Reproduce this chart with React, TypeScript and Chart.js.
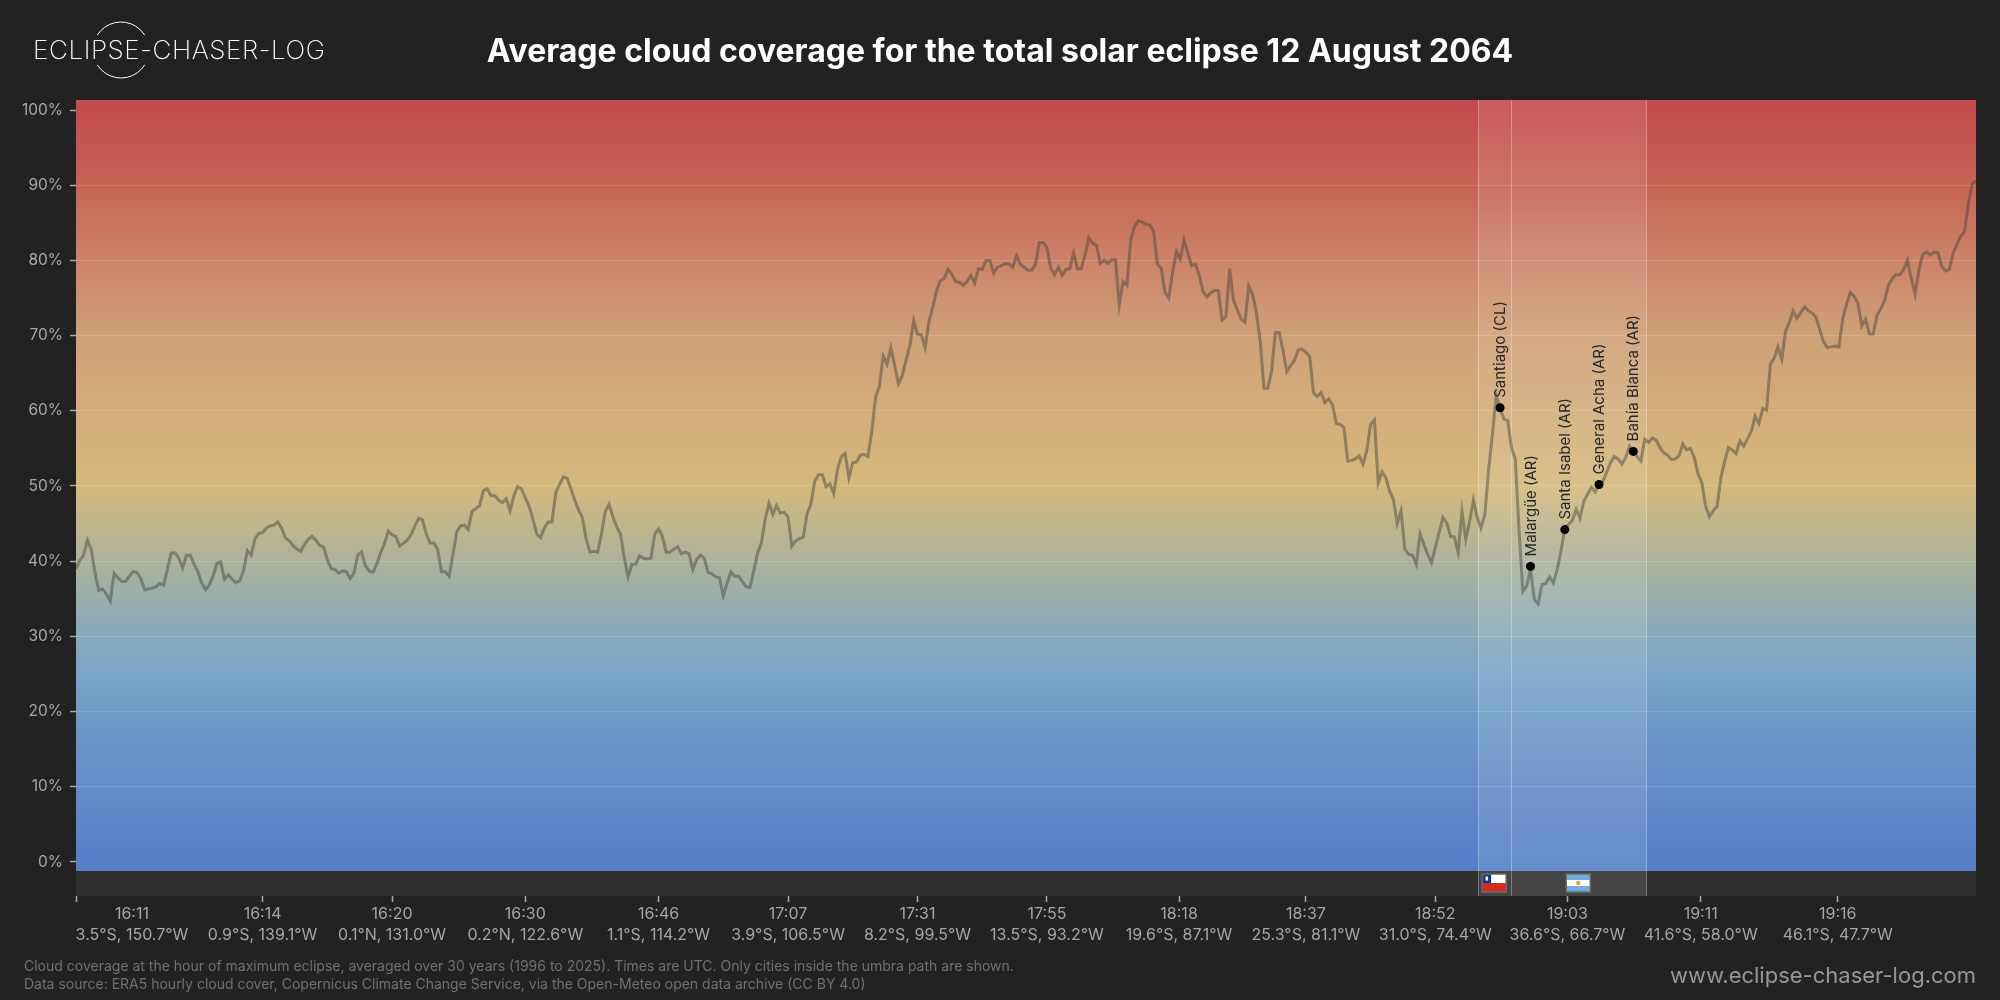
import { useEffect, useRef } from "react";
import { Chart, registerables } from "chart.js";

Chart.register(...registerables);

// cloud cover (%), 500 samples along the eclipse track
const coverA = [
  39.0, 40.1, 40.8, 42.8, 41.6, 38.4, 36.1, 36.3, 35.6, 34.7,
  38.4, 37.8, 37.3, 37.3, 38.0, 38.6, 38.5, 37.7, 36.2, 36.3,
  36.4, 36.6, 37.0, 36.8, 38.9, 41.1, 41.1, 40.4, 39.1, 40.8,
  40.8, 39.6, 38.6, 37.1, 36.2, 36.8, 38.0, 39.7, 39.9, 37.6,
  38.2, 37.6, 37.1, 37.4, 38.7, 41.4, 40.8, 43.0, 43.7, 43.8,
  44.4, 44.7, 44.8, 45.2, 44.4, 43.1, 42.7, 42.1, 41.6, 41.3,
  42.2, 42.9, 43.3, 42.8, 42.1, 41.9, 40.2, 39.0, 38.9, 38.4,
  38.7, 38.6, 37.7, 38.4, 40.8, 41.2, 39.4, 38.7, 38.5, 39.6,
  41.1, 42.3, 44.0, 43.5, 43.3, 42.0, 42.4, 42.8, 43.5, 44.7,
  45.7, 45.5, 43.6, 42.4, 42.4, 41.5, 38.6, 38.6, 38.0, 40.9,
];
const coverB = [
  43.9, 44.7, 44.8, 44.2, 46.6, 47.0, 47.4, 49.4, 49.6, 48.7,
  48.7, 48.1, 47.8, 48.3, 46.7, 48.7, 49.9, 49.6, 48.4, 47.3,
  45.6, 43.6, 43.1, 44.4, 45.2, 45.2, 49.1, 50.2, 51.2, 51.0,
  49.6, 48.1, 46.8, 45.8, 42.9, 41.2, 41.3, 41.2, 43.6, 46.6,
  47.6, 45.9, 44.6, 43.6, 40.4, 37.9, 39.6, 39.6, 40.7, 40.4,
  40.3, 40.4, 43.6, 44.3, 43.3, 41.2, 41.2, 41.6, 41.9, 41.0,
  41.2, 41.0, 38.9, 40.2, 40.8, 40.4, 38.5, 38.3, 37.9, 37.8,
  35.4, 37.1, 38.6, 38.0, 38.0, 37.3, 36.6, 36.5, 38.7, 41.1,
  42.4, 45.6, 47.7, 46.2, 47.4, 46.4, 46.5, 45.9, 42.0, 42.7,
  43.0, 43.2, 46.3, 47.6, 50.6, 51.5, 51.5, 49.9, 50.3, 49.0,
];
const coverC = [
  52.2, 53.9, 54.3, 51.1, 53.1, 53.2, 54.1, 54.2, 53.9, 57.3,
  61.8, 63.3, 67.3, 66.2, 68.4, 66.0, 63.6, 64.7, 66.7, 68.7,
  72.0, 70.2, 70.1, 68.4, 71.8, 73.8, 75.9, 77.3, 77.6, 78.8,
  78.2, 77.2, 77.1, 76.7, 77.2, 78.0, 77.0, 78.9, 78.8, 80.0,
  80.0, 78.3, 79.1, 79.3, 79.6, 79.5, 79.1, 80.6, 79.5, 79.1,
  78.7, 78.7, 79.5, 82.4, 82.4, 81.7, 79.0, 78.1, 79.1, 78.0,
  78.8, 78.9, 81.0, 78.9, 78.9, 80.7, 83.0, 82.3, 82.0, 79.6,
  80.0, 79.6, 80.1, 80.1, 74.1, 77.2, 76.7, 82.7, 84.5, 85.3,
  85.1, 84.8, 84.7, 83.9, 79.5, 79.0, 75.8, 75.0, 78.4, 81.2,
  80.2, 82.7, 81.0, 79.3, 79.5, 78.0, 75.9, 75.1, 75.7, 76.0,
];
const coverD = [
  76.0, 72.1, 72.5, 78.9, 74.7, 73.4, 72.2, 71.8, 76.6, 75.5,
  73.1, 69.3, 63.0, 63.0, 65.3, 70.4, 70.4, 68.0, 65.2, 66.0,
  66.7, 68.1, 68.2, 67.8, 67.2, 62.4, 61.9, 62.4, 61.1, 61.6,
  60.8, 58.3, 58.2, 57.8, 53.3, 53.4, 53.6, 54.0, 52.9, 54.7,
  58.2, 58.8, 50.4, 51.9, 51.1, 49.3, 48.2, 45.0, 46.7, 41.6,
  40.9, 40.8, 39.6, 43.6, 42.2, 40.9, 39.8, 41.8, 43.8, 45.8,
  45.1, 43.3, 43.2, 41.2, 46.6, 42.9, 45.3, 48.1, 45.8, 44.4,
  46.2, 52.2, 56.9, 62.0, 60.4, 58.9, 58.7, 55.1, 53.6, 44.0,
  36.0, 36.7, 38.9, 34.9, 34.3, 36.9, 37.0, 37.9, 37.1, 38.9,
  41.3, 44.4, 44.9, 45.4, 46.9, 45.7, 48.0, 48.9, 49.8, 49.2,
];
const coverE = [
  50.2, 50.6, 51.8, 53.1, 53.9, 53.6, 52.9, 53.8, 55.3, 54.6,
  53.9, 53.3, 56.2, 55.8, 56.4, 56.1, 55.1, 54.4, 54.1, 53.5,
  53.6, 54.0, 55.6, 54.8, 55.0, 53.8, 51.6, 50.4, 47.3, 45.9,
  46.7, 47.3, 51.1, 53.3, 55.1, 54.8, 54.3, 56.0, 55.3, 56.3,
  57.3, 59.3, 58.3, 60.3, 60.1, 66.2, 67.0, 68.5, 66.9, 70.6,
  71.8, 73.3, 72.3, 73.1, 73.8, 73.3, 73.0, 72.4, 70.7, 69.1,
  68.4, 68.5, 68.6, 68.5, 72.2, 74.2, 75.7, 75.2, 74.3, 71.3,
  72.2, 70.2, 70.2, 72.7, 73.6, 74.7, 76.7, 77.6, 78.1, 78.1,
  78.8, 80.0, 77.6, 75.5, 78.7, 80.8, 81.1, 80.7, 81.1, 81.0,
  79.2, 78.6, 78.8, 81.0, 82.2, 83.2, 83.9, 87.6, 90.2, 90.6,
];
const cloudCover = [...coverA, ...coverB, ...coverC, ...coverD, ...coverE];

const yTicks = [0, 10, 20, 30, 40, 50, 60, 70, 80, 90, 100];

// sample position of each x tick; 14.7 only carries the shifted first label
const xTickAt = [0, 14.7, 49, 83, 118, 153, 187, 221, 255, 289.7, 323, 357, 391.7, 426.7, 462.7];
const xTimes = ["", "16:11", "16:14", "16:20", "16:30", "16:46", "17:07", "17:31", "17:55", "18:18", "18:37", "18:52", "19:03", "19:11", "19:16"];
const xCoords = [
  "", "3.5°S, 150.7°W", "0.9°S, 139.1°W", "0.1°N, 131.0°W", "0.2°N, 122.6°W", "1.1°S, 114.2°W",
  "3.9°S, 106.5°W", "8.2°S, 99.5°W", "13.5°S, 93.2°W", "19.6°S, 87.1°W", "25.3°S, 81.1°W",
  "31.0°S, 74.4°W", "36.6°S, 66.7°W", "41.6°S, 58.0°W", "46.1°S, 47.7°W",
];

const cityNames = ["Santiago (CL)", "Malargüe (AR)", "Santa Isabel (AR)", "General Acha (AR)", "Bahía Blanca (AR)"];
const cityAt = [374, 382, 391, 400, 409];
const cityCover = [60.4, 39.3, 44.2, 50.2, 54.6];

// umbra over land: Chile then Argentina
const borderAt = [368.3, 377.1, 412.5];

const stopValues = [101.34, 100, 90, 80, 70, 60, 50, 40, 30, 25, 20, 10, 0, -1.22];
const stopColors = [
  "#c44b4e", "#c44b4e", "#c76455", "#cc8469", "#cfa076", "#d2ad7a", "#d5b97d",
  "#acb29b", "#87aabc", "#7aa5c8", "#6e9bc8", "#648cc8", "#5580c6", "#5580c6",
];

const chartBg = "#222222";
const title = "Average cloud coverage for the total solar eclipse 12 August 2064";
const notes = [
  "Cloud coverage at the hour of maximum eclipse, averaged over 30 years (1996 to 2025). Times are UTC. Only cities inside the umbra path are shown.",
  "Data source: ERA5 hourly cloud cover, Copernicus Climate Change Service, via the Open-Meteo open data archive (CC BY 4.0)",
];
const siteUrl = "www.eclipse-chaser-log.com";
const FONT = "Inter, sans-serif";

const drawChile = (ctx: CanvasRenderingContext2D, x: number, y: number, w: number, h: number) => {
  ctx.fillStyle = "#ffffff";
  ctx.fillRect(x, y, w, h / 2);
  ctx.fillStyle = "#d72b1f";
  ctx.fillRect(x, y + h / 2, w, h / 2);
  ctx.fillStyle = "#0b3a9e";
  ctx.fillRect(x, y, h / 2, h / 2);
  ctx.fillStyle = "#ffffff";
  ctx.fillRect(x + h / 4 - 1, y + h / 4 - 2, 2.5, 4);
};

const drawArgentina = (ctx: CanvasRenderingContext2D, x: number, y: number, w: number, h: number) => {
  ctx.fillStyle = "#74acdf";
  ctx.fillRect(x, y, w, h);
  ctx.fillStyle = "#ffffff";
  ctx.fillRect(x, y + h / 3, w, h / 3);
  ctx.fillStyle = "#e0a040";
  ctx.beginPath();
  ctx.arc(x + w / 2, y + h / 2, 2.2, 0, Math.PI * 2);
  ctx.fill();
};

const backdropPlugin = {
  id: "backdrop",
  beforeDraw(chart: any) {
    const { ctx, chartArea: a, scales } = chart;
    const y = scales.y;
    const gradBottom = y.getPixelForValue(stopValues[stopValues.length - 1]);
    ctx.save();
    ctx.fillStyle = chartBg;
    ctx.fillRect(0, 0, chart.width, chart.height);
    const g = ctx.createLinearGradient(0, a.top, 0, gradBottom);
    stopValues.forEach((v, i) => {
      g.addColorStop((y.getPixelForValue(v) - a.top) / (gradBottom - a.top), stopColors[i]);
    });
    ctx.fillStyle = g;
    ctx.fillRect(a.left, a.top, a.right - a.left, gradBottom - a.top);
    ctx.fillStyle = "#303030";
    ctx.fillRect(a.left, gradBottom, a.right - a.left, a.bottom - gradBottom);
    ctx.restore();
  },
  beforeDatasetsDraw(chart: any) {
    const { ctx, chartArea: a, scales } = chart;
    const xs = borderAt.map((v) => scales.x.getPixelForValue(v));
    const stripTop = scales.y.getPixelForValue(stopValues[stopValues.length - 1]);
    ctx.save();
    ctx.fillStyle = "rgba(255,255,255,0.1)";
    ctx.fillRect(xs[0], a.top, xs[2] - xs[0], a.bottom - a.top);
    ctx.strokeStyle = "rgba(255,255,255,0.3)";
    ctx.lineWidth = 1;
    xs.forEach((x) => {
      ctx.beginPath();
      ctx.moveTo(Math.floor(x) + 0.5, a.top);
      ctx.lineTo(Math.floor(x) + 0.5, a.bottom);
      ctx.stroke();
    });
    const fw = 24;
    const fh = 18;
    const fy = stripTop + 3;
    const cx = [(xs[0] + xs[1]) / 2 - 1, (xs[1] + xs[2]) / 2 - 1];
    drawChile(ctx, cx[0] - fw / 2, fy, fw, fh);
    drawArgentina(ctx, cx[1] - fw / 2, fy, fw, fh);
    ctx.strokeStyle = "#6a6a6a";
    ctx.lineWidth = 1.5;
    cx.forEach((c) => ctx.strokeRect(c - fw / 2, fy, fw, fh));
    ctx.restore();
  },
  afterDraw(chart: any) {
    const { ctx, scales } = chart;
    ctx.save();
    // title
    ctx.fillStyle = "#ffffff";
    ctx.font = `bold 32px ${FONT}`;
    ctx.textAlign = "center";
    ctx.textBaseline = "middle";
    ctx.fillText(title, 1000, 52);

    // city labels, read upwards from each dot
    ctx.fillStyle = "#262626";
    ctx.font = `15px ${FONT}`;
    ctx.textAlign = "left";
    cityNames.forEach((name, i) => {
      const px = scales.x.getPixelForValue(cityAt[i]);
      const py = scales.y.getPixelForValue(cityCover[i]);
      ctx.save();
      ctx.translate(px + 0.5, py - 10);
      ctx.rotate(-Math.PI / 2);
      ctx.fillText(name, 0, 0);
      ctx.restore();
    });

    // footer
    ctx.fillStyle = "#707070";
    ctx.font = `14px ${FONT}`;
    notes.forEach((t, i) => ctx.fillText(t, 24, 967 + i * 18));
    ctx.fillStyle = "#979797";
    ctx.font = `22px ${FONT}`;
    ctx.textAlign = "right";
    ctx.fillText(siteUrl, 1976, 976);

    // logo
    ctx.strokeStyle = "#ffffff";
    ctx.lineWidth = 1;
    ctx.beginPath();
    ctx.arc(121, 50, 28, Math.PI + 0.56, -0.56);
    ctx.stroke();
    ctx.beginPath();
    ctx.arc(121, 50, 28, 0.56, Math.PI - 0.56);
    ctx.stroke();
    ctx.fillStyle = "#ffffff";
    ctx.font = `200 26px ${FONT}`;
    ctx.textAlign = "left";
    ctx.letterSpacing = "0.6px";
    ctx.fillText("ECLIPSE-CHASER-LOG", 33, 51);
    ctx.restore();
  },
};

export default function App() {
  const ref = useRef<HTMLCanvasElement>(null);

  useEffect(() => {
    document.body.style.margin = "0";
    document.body.style.background = chartBg;
    const chart = new Chart(ref.current!, {
      type: "line",
      data: {
        datasets: [
          {
            type: "scatter",
            data: cityAt.map((x, i) => ({ x, y: cityCover[i] })),
            pointRadius: 4.5,
            pointBackgroundColor: "#000000",
            pointBorderWidth: 0,
            showLine: false,
          },
          {
            data: cloudCover.map((y, x) => ({ x, y })),
            borderColor: "rgba(70,68,60,0.48)",
            borderWidth: 3,
            pointRadius: 0,
            tension: 0,
          },
        ] as any,
      },
      options: {
        animation: false,
        responsive: false,
        devicePixelRatio: 1,
        layout: { padding: { right: 24, top: 100, bottom: 0, left: 0 } },
        plugins: {
          legend: { display: false },
          tooltip: { enabled: false },
          title: { display: false },
        },
        scales: {
          x: {
            type: "linear",
            min: 0,
            max: 499,
            border: { display: false },
            grid: {
              drawOnChartArea: false,
              tickLength: 6,
              tickColor: (c: any) => (c.index === 1 ? "transparent" : "#a8a8a8"),
              tickWidth: 1.5,
            },
            afterBuildTicks: (s: any) => {
              s.ticks = xTickAt.map((value) => ({ value }));
            },
            afterFit: (s: any) => {
              s.height = 104;
            },
            ticks: {
              autoSkip: false,
              maxRotation: 0,
              minRotation: 0,
              padding: 2,
              color: "#a6a6a6",
              font: { family: FONT, size: 16, lineHeight: 1.31 },
              callback: (_v: any, i: number) => [xTimes[i], xCoords[i]],
            },
          },
          y: {
            type: "linear",
            min: -4.54,
            max: 101.34,
            border: { display: false },
            grid: {
              color: (c: any) =>
                c.tick && (c.tick.value === 0 || c.tick.value === 100) ? "transparent" : "rgba(255,255,255,0.15)",
              tickLength: 6,
              tickColor: "#a8a8a8",
              tickWidth: 1.5,
            },
            afterBuildTicks: (s: any) => {
              s.ticks = yTicks.map((value) => ({ value }));
            },
            afterFit: (s: any) => {
              s.width = 76;
            },
            ticks: {
              padding: 7,
              color: "#a8a8a8",
              font: { family: FONT, size: 15.5 },
              callback: (v: any) => `${v}%`,
            },
          },
        },
      },
      plugins: [backdropPlugin],
    } as any);
    return () => chart.destroy();
  }, []);

  return <canvas ref={ref} width={2000} height={1000} style={{ display: "block" }} />;
}
